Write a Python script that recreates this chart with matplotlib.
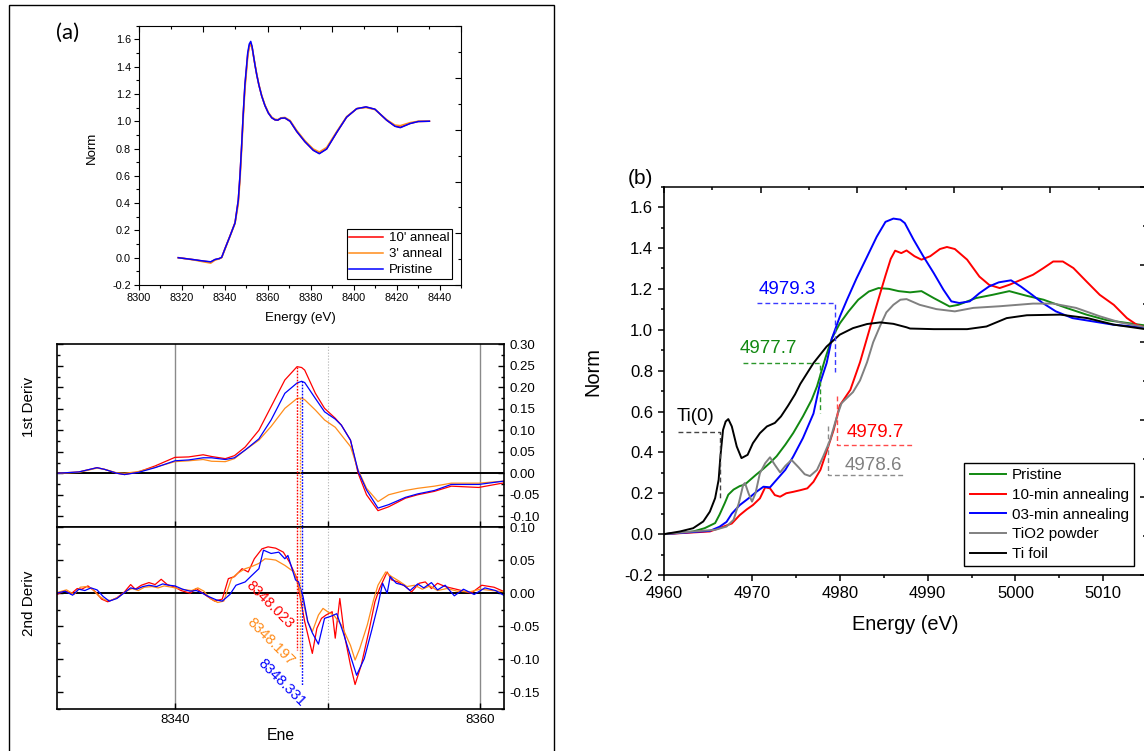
import matplotlib.pyplot as plt
from matplotlib.ticker import MultipleLocator, FixedLocator, FuncFormatter
from matplotlib.patches import Rectangle

plt.rcParams['font.family'] = ['Liberation Sans', 'DejaVu Sans']

# ---------------- data: panel (a), normalised XANES ----------------
E_norm = [8318.5, 8325.5, 8330.1, 8333.6, 8335.6, 8337.6, 8338.7, 8340.2, 8342.6, 8344.9,
          8346.4, 8347.2, 8348.0, 8348.7, 8349.5, 8350.8, 8351.5, 8352.2, 8352.8, 8353.4,
          8354.2, 8355.0, 8356.0, 8357.3, 8358.8, 8360.4, 8362.0, 8363.5, 8364.8, 8366.2,
          8368.1, 8370.5, 8373.6, 8377.4, 8381.3, 8384.1, 8387.5, 8392.2, 8396.8, 8401.5,
          8405.8, 8410.0, 8415.4, 8419.3, 8421.8, 8426.3, 8430.1, 8435.3]
norm_10 = [0.0, -0.014, -0.025, -0.032, -0.014, -0.006, 0.003, 0.066, 0.162, 0.257,
           0.42, 0.60, 0.83, 1.05, 1.26, 1.49, 1.55, 1.57, 1.545, 1.485,
           1.41, 1.34, 1.265, 1.185, 1.115, 1.06, 1.025, 1.010, 1.008, 1.021,
           1.023, 1.000, 0.925, 0.850, 0.788, 0.765, 0.798, 0.918, 1.030, 1.092,
           1.104, 1.087, 1.008, 0.964, 0.956, 0.984, 0.998, 1.000]
norm_3 = [0.0, -0.016, -0.030, -0.040, -0.018, -0.008, 0.0, 0.060, 0.158, 0.250,
          0.39, 0.56, 0.79, 1.01, 1.23, 1.47, 1.54, 1.56, 1.545, 1.49,
          1.415, 1.345, 1.27, 1.19, 1.12, 1.065, 1.03, 1.015, 1.012, 1.025,
          1.028, 1.006, 0.933, 0.858, 0.797, 0.775, 0.808, 0.925, 1.034, 1.092,
          1.100, 1.085, 1.012, 0.972, 0.968, 0.990, 1.000, 1.000]
norm_pr = [0.0, -0.014, -0.024, -0.030, -0.013, -0.006, 0.003, 0.065, 0.160, 0.255,
           0.42, 0.60, 0.83, 1.05, 1.27, 1.50, 1.565, 1.585, 1.55, 1.49,
           1.41, 1.34, 1.265, 1.185, 1.115, 1.06, 1.025, 1.010, 1.008, 1.022,
           1.024, 1.000, 0.925, 0.850, 0.787, 0.762, 0.796, 0.918, 1.030, 1.092,
           1.105, 1.088, 1.008, 0.963, 0.953, 0.983, 0.998, 1.000]

# ---------------- data: panel (a), first derivative ----------------
E_d1 = [8332.25, 8333.7, 8334.9, 8335.4, 8336.2, 8336.7, 8337.6, 8338.7, 8340.0, 8340.9,
        8341.85, 8342.4, 8343.3, 8343.9, 8344.6, 8345.5, 8346.3, 8347.2, 8348.0, 8348.3,
        8348.5, 8349.2, 8349.8, 8350.5, 8350.9, 8351.5, 8352.0, 8352.55, 8353.3, 8354.0,
        8355.1, 8355.9, 8357.0, 8358.1, 8359.9, 8361.6]
d1_10 = [0, 0.003, 0.013, 0.009, 0, -0.003, 0.003, 0.017, 0.037, 0.038,
         0.043, 0.039, 0.034, 0.041, 0.061, 0.100, 0.155, 0.217, 0.248, 0.246,
         0.240, 0.186, 0.151, 0.128, 0.112, 0.077, 0.0, -0.050, -0.087, -0.078,
         -0.058, -0.050, -0.042, -0.030, -0.033, -0.022]
d1_3 = [0, 0.002, 0.012, 0.009, 0.001, 0.0, 0.004, 0.014, 0.027, 0.029,
        0.032, 0.028, 0.027, 0.034, 0.054, 0.077, 0.109, 0.151, 0.174, 0.175,
        0.171, 0.147, 0.124, 0.107, 0.089, 0.062, 0.008, -0.035, -0.066, -0.050,
        -0.040, -0.035, -0.030, -0.023, -0.023, -0.018]
d1_pr = [0, 0.003, 0.013, 0.009, 0, -0.003, 0.002, 0.013, 0.029, 0.031,
         0.036, 0.036, 0.032, 0.036, 0.054, 0.080, 0.124, 0.186, 0.210, 0.214,
         0.211, 0.174, 0.143, 0.126, 0.112, 0.077, 0.005, -0.039, -0.081, -0.073,
         -0.056, -0.048, -0.040, -0.026, -0.026, -0.018]

# ---------------- data: panel (a), second derivative ----------------
E_d2_10 = [8332.27, 8332.8, 8333.2, 8333.6, 8333.9, 8334.3, 8334.8, 8335.2, 8335.6, 8336.2,
           8336.7, 8337.1, 8337.4, 8337.8, 8338.3, 8338.7, 8339.1, 8339.5, 8340.0, 8340.4,
           8341.0, 8341.4, 8341.7, 8342.2, 8342.6, 8343.1, 8343.5, 8343.9, 8344.4, 8344.8,
           8345.2, 8345.7, 8346.1, 8346.6, 8347.1, 8347.5, 8348.0, 8348.2, 8348.5, 8349.0,
           8349.3, 8349.6, 8349.9, 8350.3, 8350.5, 8350.8, 8351.1, 8351.5, 8351.8, 8352.2,
           8352.7, 8353.1, 8353.4, 8353.9, 8354.2, 8354.6, 8355.1, 8355.5, 8356.0, 8356.4,
           8356.8, 8357.2, 8357.7, 8358.6, 8359.4, 8360.1, 8360.9, 8361.6]
d2_10 = [-0.002, 0.004, -0.001, 0.007, 0.006, 0.011, 0.002, -0.009, -0.013, -0.007,
         0.002, 0.013, 0.006, 0.012, 0.016, 0.013, 0.021, 0.013, 0.009, 0.004,
         0.0, 0.007, 0.002, -0.006, -0.012, -0.009, 0.022, 0.025, 0.037, 0.032,
         0.052, 0.067, 0.070, 0.068, 0.062, 0.047, 0.022, -0.006, -0.043, -0.091,
         -0.053, -0.038, -0.033, -0.028, -0.068, -0.008, -0.063, -0.109, -0.138, -0.109,
         -0.058, -0.013, 0.007, 0.032, 0.020, 0.017, 0.010, 0.002, 0.015, 0.017,
         0.007, 0.015, 0.010, 0.005, 0.0, 0.012, 0.009, 0.002]
E_d2_3 = [8332.27, 8332.9, 8333.4, 8333.8, 8334.2, 8334.6, 8335.0, 8335.4, 8335.8, 8336.3,
          8336.8, 8337.2, 8337.6, 8338.0, 8338.5, 8338.9, 8339.3, 8339.8, 8340.2, 8340.7,
          8341.1, 8341.5, 8341.9, 8342.3, 8342.8, 8343.2, 8343.7, 8344.1, 8344.6, 8345.0,
          8345.5, 8345.9, 8346.3, 8346.6, 8347.2, 8347.8, 8348.1, 8348.4, 8348.7, 8349.0,
          8349.4, 8349.7, 8350.0, 8350.4, 8350.9, 8351.5, 8351.8, 8352.1, 8352.6, 8353.0,
          8353.3, 8353.8, 8354.2, 8354.7, 8355.2, 8355.7, 8356.2, 8356.7, 8357.2, 8357.8,
          8358.5, 8359.3, 8360.0, 8360.8, 8361.6]
d2_3 = [0.001, 0.005, -0.002, 0.009, 0.010, 0.006, -0.004, -0.010, -0.011, -0.006,
        0.003, 0.007, 0.004, 0.009, 0.010, 0.008, 0.011, 0.009, 0.007, 0.005,
        0.004, 0.008, 0.003, -0.008, -0.014, -0.012, 0.022, 0.030, 0.037, 0.040,
        0.045, 0.052, 0.051, 0.050, 0.042, 0.032, 0.010, -0.013, -0.043, -0.058,
        -0.033, -0.023, -0.028, -0.033, -0.048, -0.079, -0.101, -0.084, -0.048, -0.011,
        0.012, 0.032, 0.025, 0.018, 0.010, 0.012, 0.006, 0.011, 0.004, 0.007,
        0.003, 0.002, 0.006, 0.004, 0.002]
E_d2_pr = [8332.27, 8332.8, 8333.3, 8333.7, 8334.1, 8334.5, 8334.9, 8335.3, 8335.7, 8336.2,
           8336.7, 8337.1, 8337.5, 8337.9, 8338.3, 8338.8, 8339.2, 8339.6, 8340.0, 8340.5,
           8341.0, 8341.4, 8341.8, 8342.2, 8342.7, 8343.1, 8343.6, 8344.0, 8344.6, 8345.0,
           8345.5, 8345.8, 8346.3, 8346.8, 8347.2, 8347.4, 8347.9, 8348.1, 8348.4, 8348.7,
           8349.0, 8349.4, 8349.8, 8350.2, 8350.6, 8351.0, 8351.5, 8351.9, 8352.4, 8352.9,
           8353.3, 8353.6, 8353.9, 8354.1, 8354.5, 8355.0, 8355.4, 8355.9, 8356.3, 8356.8,
           8357.2, 8357.7, 8358.3, 8358.9, 8359.6, 8360.3, 8361.0, 8361.6]
d2_pr = [0.0, 0.003, -0.003, 0.006, 0.004, 0.008, 0.005, -0.005, -0.012, -0.008,
         0.001, 0.008, 0.006, 0.010, 0.012, 0.010, 0.014, 0.012, 0.011, 0.006,
         0.003, 0.004, 0.0, -0.005, -0.010, -0.012, -0.002, 0.012, 0.017, 0.026,
         0.037, 0.065, 0.060, 0.062, 0.052, 0.057, 0.020, 0.017, -0.006, -0.043,
         -0.060, -0.077, -0.038, -0.035, -0.031, -0.058, -0.095, -0.124, -0.099, -0.055,
         -0.018, 0.015, 0.0, 0.025, 0.015, 0.012, 0.004, 0.014, 0.008, 0.016,
         0.005, 0.012, -0.004, 0.006, -0.002, 0.008, 0.004, -0.004]

# edge positions marked in (a): energy, top of marker (1st deriv), bottom (2nd deriv)
edge_E = [8348.023, 8348.197, 8348.331]
edge_top = [0.248, 0.175, 0.214]
edge_bot = [-0.086, -0.112, -0.139]
edge_txt_E = [8346.2, 8346.3, 8347.0]
edge_txt_v = [-0.017, -0.073, -0.136]
a_colors = ['#ff0000', '#ff8c1a', '#0000ff']
a_labels = ["10' anneal", "3' anneal", "Pristine"]

# ---------------- data: panel (b), Ti K-edge ----------------
E_pr = [4960.0, 4963.3, 4964.6, 4965.8, 4966.3, 4966.9, 4967.3, 4967.9, 4968.6, 4969.2,
        4969.8, 4970.5, 4971.3, 4972.05, 4972.8, 4973.8, 4974.7, 4975.8, 4976.8, 4977.4,
        4978.35, 4979.1, 4980.0, 4981.0, 4982.1, 4983.3, 4984.4, 4985.6, 4986.7, 4988.0,
        4989.3, 4990.7, 4992.5, 4993.5, 4995.5, 4997.4, 4999.3, 5001.3, 5003.2, 5005.8,
        5008.1, 5010.4, 5012.6, 5014.8]
v_pr = [0.0, 0.013, 0.029, 0.054, 0.095, 0.152, 0.193, 0.218, 0.235, 0.243,
        0.266, 0.292, 0.320, 0.349, 0.381, 0.438, 0.495, 0.576, 0.658, 0.723,
        0.861, 0.958, 1.031, 1.090, 1.147, 1.187, 1.204, 1.200, 1.189, 1.183,
        1.189, 1.155, 1.114, 1.122, 1.155, 1.171, 1.189, 1.166, 1.147, 1.107,
        1.074, 1.047, 1.034, 1.021]
E_10 = [4960.0, 4965.2, 4966.7, 4967.7, 4968.6, 4969.4, 4970.1, 4970.9, 4971.5, 4972.05,
        4972.6, 4973.2, 4973.9, 4974.7, 4975.5, 4976.3, 4977.0, 4977.8, 4978.5, 4979.3,
        4980.0, 4981.2, 4982.3, 4983.4, 4984.4, 4985.2, 4985.8, 4986.3, 4987.0, 4987.6,
        4988.5, 4989.3, 4990.3, 4991.4, 4992.2, 4993.1, 4994.5, 4995.9, 4997.0, 4998.2,
        4999.3, 5000.5, 5002.0, 5003.2, 5004.3, 5005.4, 5006.6, 5008.1, 5009.6, 5011.2,
        5012.7, 5013.8, 5014.8]
v_10 = [0.0, 0.013, 0.036, 0.052, 0.093, 0.121, 0.142, 0.175, 0.229, 0.224,
        0.191, 0.183, 0.2, 0.207, 0.215, 0.224, 0.256, 0.315, 0.405, 0.51,
        0.63, 0.706, 0.841, 1.004, 1.150, 1.265, 1.347, 1.387, 1.375, 1.388,
        1.36, 1.343, 1.36, 1.395, 1.405, 1.395, 1.343, 1.26, 1.22, 1.204,
        1.22, 1.242, 1.269, 1.302, 1.334, 1.334, 1.302, 1.236, 1.171, 1.122,
        1.057, 1.025, 1.011]
E_03 = [4960.0, 4965.2, 4966.3, 4967.1, 4967.7, 4968.6, 4969.6, 4970.5, 4971.3, 4972.05,
        4972.8, 4973.8, 4974.7, 4975.8, 4977.0, 4977.75, 4978.5, 4979.1, 4980.0, 4980.8,
        4981.9, 4983.1, 4984.2, 4985.2, 4986.1, 4986.9, 4987.4, 4988.4, 4989.5, 4990.7,
        4991.8, 4992.7, 4993.6, 4994.8, 4995.9, 4997.0, 4998.1, 4999.5, 5000.6, 5001.9,
        5003.1, 5004.6, 5006.5, 5008.8, 5011.1, 5013.4, 5014.8]
v_03 = [0.0, 0.016, 0.036, 0.06, 0.10, 0.142, 0.175, 0.207, 0.232, 0.229,
        0.266, 0.315, 0.38, 0.47, 0.59, 0.739, 0.837, 0.958, 1.064, 1.145,
        1.251, 1.357, 1.455, 1.528, 1.544, 1.539, 1.522, 1.441, 1.36, 1.277,
        1.196, 1.139, 1.131, 1.139, 1.179, 1.212, 1.232, 1.242, 1.212, 1.171,
        1.131, 1.090, 1.057, 1.041, 1.025, 1.016, 1.011]
E_tio2 = [4960.0, 4963.3, 4965.8, 4967.1, 4967.9, 4968.5, 4969.0, 4969.2, 4969.6, 4970.0,
          4970.4, 4970.9, 4971.5, 4972.05, 4972.6, 4973.2, 4973.8, 4974.5, 4975.3, 4976.0,
          4976.6, 4977.4, 4978.1, 4978.9, 4979.66, 4980.2, 4980.8, 4981.5, 4982.3, 4983.1,
          4983.8, 4984.6, 4985.3, 4986.1, 4986.9, 4987.6, 4989.1, 4991.0, 4993.1, 4995.2,
          4998.2, 5002.0, 5004.3, 5006.9, 5009.6, 5011.9, 5014.8]
v_tio2 = [0.0, 0.013, 0.021, 0.037, 0.07, 0.152, 0.242, 0.25, 0.2, 0.159,
          0.2, 0.298, 0.347, 0.376, 0.339, 0.302, 0.334, 0.363, 0.327, 0.293,
          0.284, 0.314, 0.379, 0.461, 0.575, 0.641, 0.666, 0.695, 0.752, 0.841,
          0.939, 1.020, 1.085, 1.122, 1.147, 1.150, 1.122, 1.101, 1.090, 1.107,
          1.115, 1.128, 1.128, 1.107, 1.066, 1.036, 1.013]
E_ti = [4960.0, 4961.8, 4963.3, 4964.45, 4965.2, 4965.8, 4966.2, 4966.4, 4966.7, 4967.0,
        4967.3, 4967.7, 4968.26, 4968.8, 4969.5, 4970.1, 4970.9, 4971.7, 4972.6, 4973.3,
        4974.1, 4974.9, 4975.5, 4977.0, 4978.5, 4980.0, 4981.5, 4983.1, 4984.6, 4986.1,
        4987.6, 4988.0, 4990.7, 4994.5, 4996.7, 4999.0, 5001.3, 5005.1, 5008.2, 5011.2,
        5014.8]
v_ti = [0.0, 0.013, 0.029, 0.062, 0.11, 0.176, 0.266, 0.38, 0.51, 0.551,
        0.563, 0.527, 0.429, 0.372, 0.388, 0.445, 0.494, 0.527, 0.544, 0.576,
        0.628, 0.684, 0.735, 0.837, 0.918, 0.976, 1.008, 1.028, 1.036, 1.029,
        1.012, 1.006, 1.003, 1.003, 1.016, 1.057, 1.071, 1.074, 1.057, 1.025,
        1.003]
b_labels = ['Pristine', '10-min annealing', '03-min annealing', 'TiO2 powder', 'Ti foil']
b_colors = ['#118811', '#ff0000', '#0000ff', '#808080', '#000000']

# edge markers in (b): label, label position, dashed path
mk_text = ['4979.3', '4977.7', 'Ti(0)', '4979.7', '4978.6']
mk_color = ['#0000ff', '#118811', '#000000', '#ff0000', '#808080']
mk_line_color = ['#3a3aff', '#2a962a', '#444444', '#ff4a4a', '#8c8c8c']
mk_text_E = [4974.0, 4971.9, 4963.6, 4984.0, 4983.8]
mk_text_v = [1.196, 0.907, 0.574, 0.496, 0.334]
mk_path_E = [[4970.6, 4979.4, 4979.4], [4969.0, 4977.7, 4977.7], [4961.6, 4966.4, 4966.4],
             [4979.7, 4979.7, 4988.5], [4978.6, 4978.6, 4987.4]]
mk_path_v = [[1.132, 1.132, 0.794], [0.837, 0.837, 0.594], [0.502, 0.502, 0.165],
             [0.674, 0.434, 0.434], [0.527, 0.287, 0.287]]

# ---------------- layout helpers (pixel boxes) ----------------
W, H = 1144, 751
fig = plt.figure(figsize=(W / 100, H / 100), dpi=100)


def rect(l, t, r, b):
    return [l / W, 1 - b / H, (r - l) / W, (b - t) / H]


def ftext(x, y, s, **kw):
    fig.text(x / W, 1 - y / H, s, ha='center', va='center', **kw)


def tick_frame(r, nx, ny, lw):
    # top / right tick frame drawn on its own scale
    ov = fig.add_axes(r, zorder=5)
    ov.patch.set_visible(False)
    ov.set_xlim(0, nx)
    ov.set_ylim(0, ny)
    ov.spines['left'].set_visible(False)
    ov.spines['bottom'].set_visible(False)
    for s in ('top', 'right'):
        ov.spines[s].set_linewidth(lw)
    for axis in (ov.xaxis, ov.yaxis):
        axis.set_major_locator(MultipleLocator(1))
        axis.set_minor_locator(MultipleLocator(0.5))
    ov.tick_params(which='both', direction='in', top=True, right=True, bottom=False,
                   left=False, labelbottom=False, labelleft=False, width=lw)
    ov.tick_params(which='major', length=4)
    ov.tick_params(which='minor', length=2.2)
    return ov


# ---------------- panel (a) frame ----------------
fig.patches.append(Rectangle((9.2 / W, -0.01), (554 - 9.2) / W, 1.01 - 5.3 / H,
                             transform=fig.transFigure, fill=False, ec='black', lw=1.0))

# top: normalised spectra
r_top = rect(138.5, 25.7, 461, 285)
ax0 = fig.add_axes(r_top)
for v, c, lab in zip([norm_10, norm_3, norm_pr], a_colors, a_labels):
    ax0.plot(E_norm, v, color=c, lw=1.1, label=lab)
ax0.set_xlim(8300, 8450)
ax0.set_ylim(-0.2, 1.7)
ax0.xaxis.set_major_locator(FixedLocator(range(8300, 8441, 20)))
ax0.xaxis.set_minor_locator(MultipleLocator(10))
ax0.yaxis.set_major_locator(MultipleLocator(0.2))
ax0.yaxis.set_minor_locator(MultipleLocator(0.1))
ax0.yaxis.set_major_formatter(FuncFormatter(lambda v, p: f'{v:.1f}'))
ax0.spines['top'].set_visible(False)
ax0.spines['right'].set_visible(False)
for s in ('left', 'bottom'):
    ax0.spines[s].set_linewidth(0.8)
ax0.tick_params(which='both', direction='out', labelsize=7.8, width=0.8, pad=2)
ax0.tick_params(which='major', length=3.5)
ax0.tick_params(which='minor', length=2)
tick_frame(r_top, 5.0, 5.015, 0.8)
ax0.legend(loc='lower right', bbox_to_anchor=(452 / W, 1 - 279 / H), bbox_transform=fig.transFigure,
           fontsize=9.5, frameon=True, fancybox=False, edgecolor='black', framealpha=1,
           borderpad=0.2, labelspacing=0.29, handlelength=2.6, handletextpad=0.4,
           borderaxespad=0).get_frame().set_linewidth(0.8)
ftext(68, 33, '(a)', fontsize=16, family=['Lato', 'DejaVu Sans'])
ftext(92, 148, 'Norm', fontsize=9.5, rotation=90)
ftext(300, 318, 'Energy (eV)', fontsize=9.5)

# middle / bottom: derivatives
ax1 = fig.add_axes(rect(56.6, 344.3, 504.4, 527))
ax2 = fig.add_axes(rect(56.6, 527, 504.4, 709))
for ax, ylim in ((ax1, (-0.125, 0.30)), (ax2, (-0.175, 0.10))):
    ax.set_xlim(8332.25, 8361.58)
    ax.set_ylim(*ylim)
    ax.axvline(8340, color='#8a8a8a', lw=1.0, zorder=0)
    ax.axvline(8360, color='#8a8a8a', lw=1.0, zorder=0)
    ax.axvline(8350, color='#b0b0b0', lw=0.8, ls=':', zorder=0)
    ax.axhline(0, color='black', lw=1.4, zorder=1)
    ax.xaxis.set_major_locator(MultipleLocator(10))
    ax.yaxis.set_major_locator(MultipleLocator(0.05))
    ax.yaxis.set_minor_locator(MultipleLocator(0.025))
    ax.yaxis.set_major_formatter(FuncFormatter(lambda v, p: f'{v:.2f}'))
    ax.yaxis.tick_right()
    ax.tick_params(which='both', direction='in', left=True, right=True, top=False,
                   labelleft=False, labelright=True, labelsize=9.5, width=1.0)
    ax.tick_params(which='major', length=4)
    ax.tick_params(which='minor', length=2.5)
    for s in ax.spines.values():
        s.set_linewidth(1.2)

for v, c in zip([d1_10, d1_3, d1_pr], a_colors):
    ax1.plot(E_d1, v, color=c, lw=0.9, zorder=2)
ax1.tick_params(axis='x', labelbottom=False)

for e, v, c in zip([E_d2_10, E_d2_3, E_d2_pr], [d2_10, d2_3, d2_pr], a_colors):
    ax2.plot(e, v, color=c, lw=0.9, zorder=2)
ax2.xaxis.set_major_formatter(FuncFormatter(lambda v, p: f'{v:.0f}' if round(v) % 20 == 0 else ''))

for e, top, bot, tx, tv, c in zip(edge_E, edge_top, edge_bot, edge_txt_E, edge_txt_v, a_colors):
    ax1.plot([e, e], [top, -0.125], color=c, lw=1.0, ls=(0, (1.2, 1.0)), zorder=3)
    ax2.plot([e, e], [0.10, bot], color=c, lw=1.0, ls=(0, (1.2, 1.0)), zorder=3)
    ax2.text(tx, tv, f'{e:.3f}', color=c, fontsize=10.5, rotation=-45,
             rotation_mode='anchor', ha='center', va='center', zorder=4)

ftext(28.7, 407, '1st Deriv', fontsize=11, rotation=90)
ftext(28.7, 603, '2nd Deriv', fontsize=11, rotation=90)
ftext(280.5, 735, 'Ene', fontsize=11.3)

# ---------------- panel (b) ----------------
r_b = rect(664.2, 186.7, 1146, 575)
axb = fig.add_axes(r_b)
for e, v, c, lab in zip([E_pr, E_10, E_03, E_tio2, E_ti], [v_pr, v_10, v_03, v_tio2, v_ti],
                        b_colors, b_labels):
    axb.plot(e, v, color=c, lw=1.4, label=lab)
for pe, pv, lc in zip(mk_path_E, mk_path_v, mk_line_color):
    axb.plot(pe, pv, color=lc, lw=1.0, ls=(0, (3.5, 2.2)))
for s, tx, tv, c in zip(mk_text, mk_text_E, mk_text_v, mk_color):
    axb.text(tx, tv, s, color=c, fontsize=13.5, ha='center', va='center')
axb.set_xlim(4960, 5014.87)
axb.set_ylim(-0.2, 1.7)
axb.xaxis.set_major_locator(MultipleLocator(10))
axb.xaxis.set_minor_locator(MultipleLocator(5))
axb.yaxis.set_major_locator(MultipleLocator(0.2))
axb.yaxis.set_minor_locator(MultipleLocator(0.1))
axb.yaxis.set_major_formatter(FuncFormatter(lambda v, p: f'{v:.1f}'))
axb.spines['top'].set_visible(False)
axb.spines['right'].set_visible(False)
for s in ('left', 'bottom'):
    axb.spines[s].set_linewidth(1.2)
axb.tick_params(which='both', direction='out', labelsize=12, width=1.1)
axb.tick_params(which='major', length=4.5)
axb.tick_params(which='minor', length=2.5)
tick_frame(r_b, 4.99, 5.01, 1.1)
axb.legend(loc='upper left', bbox_to_anchor=(964.3 / W, 1 - 463 / H), bbox_transform=fig.transFigure,
           fontsize=11, frameon=True, fancybox=False, edgecolor='black', framealpha=1,
           borderpad=0.35, labelspacing=0.37, handlelength=2.35, handletextpad=0.4,
           borderaxespad=0).get_frame().set_linewidth(1.0)
ftext(640, 178, '(b)', fontsize=15)
ftext(593, 371, 'Norm', fontsize=14.4, rotation=90)
ftext(905, 625, 'Energy (eV)', fontsize=14.4)

fig.savefig('out.png', dpi=100)
